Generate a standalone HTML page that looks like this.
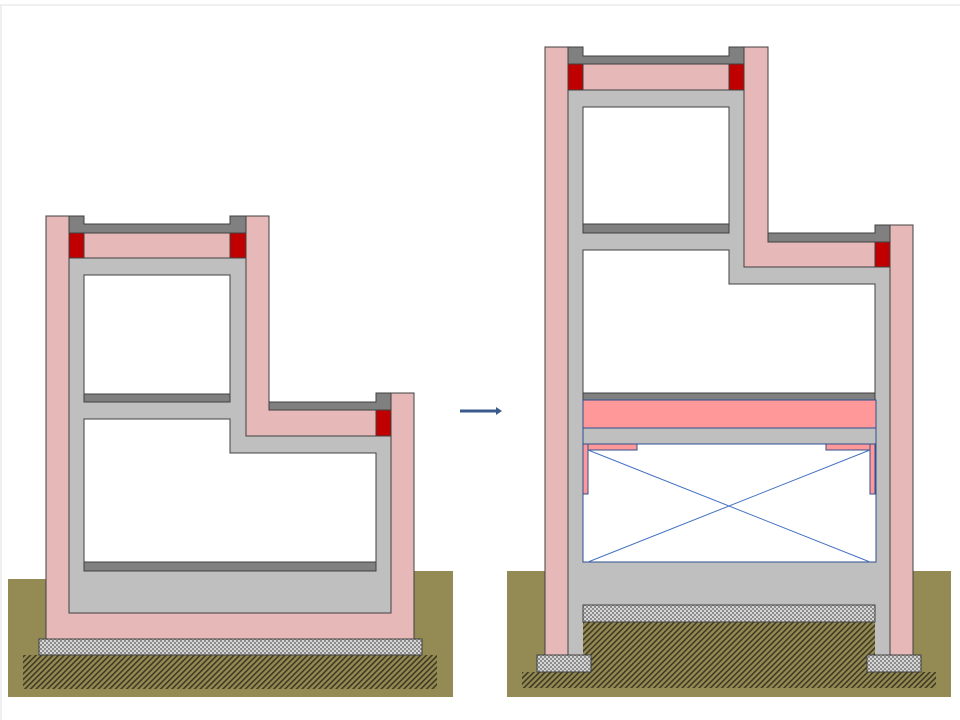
<!DOCTYPE html>
<html><head><meta charset="utf-8"><style>html,body{margin:0;padding:0;background:#fff}svg{display:block}</style></head>
<body>
<svg width="960" height="720" viewBox="0 0 960 720" xmlns="http://www.w3.org/2000/svg">
<defs>
<pattern id="hatch" width="4" height="4" patternUnits="userSpaceOnUse" patternTransform="rotate(45)">
<rect width="4" height="4" fill="#948A54"/><rect width="1.6" height="4" fill="#3f3a22"/>
</pattern>
<pattern id="grav" width="4" height="4" patternUnits="userSpaceOnUse">
<rect width="4" height="4" fill="#d6d6d6"/><rect width="2" height="2" fill="#8c8c8c"/><rect x="2" y="2" width="2" height="2" fill="#8c8c8c"/>
</pattern>
</defs>
<rect width="960" height="720" fill="#fff"/>
<line x1="0" y1="5" x2="960" y2="5" stroke="#e0e0e0"/>
<line x1="1" y1="5" x2="1" y2="720" stroke="#e0e0e0"/>

<g stroke="#404040" stroke-width="1">
<!-- LEFT BUILDING -->
<polygon points="8,579 46,579 46,571 453,571 453,697 8,697" fill="#948A54" stroke="none"/>
<rect x="23" y="655" width="414" height="34" fill="url(#hatch)" stroke="none"/>
<rect x="39" y="639" width="383" height="16" fill="url(#grav)"/>
<polygon points="46,216 84,216 84,224 230,224 230,216 269,216 269,410 391,410 391,393 414,393 414,639 46,639" fill="#E6B8B7"/>
<polygon points="69,216 84,216 84,224 230,224 230,216 246,216 246,233 69,233" fill="#808080"/>
<rect x="84" y="233" width="146" height="25" fill="#E6B8B7"/>
<rect x="69" y="233" width="15" height="25" fill="#C00000"/>
<rect x="230" y="233" width="16" height="25" fill="#C00000"/>
<polygon points="269,402 376,402 376,393 391,393 391,410 269,410" fill="#808080"/>
<rect x="376" y="410" width="15" height="26" fill="#C00000"/>
<polygon points="69,258 246,258 246,436 391,436 391,613 69,613" fill="#BFBFBF"/>
<rect x="84" y="275" width="146" height="119" fill="#fff"/>
<rect x="84" y="394" width="146" height="8" fill="#808080"/>
<polygon points="84,419 230,419 230,453 376,453 376,562 84,562" fill="#fff"/>
<rect x="84" y="562" width="292" height="9" fill="#808080"/>

<!-- RIGHT BUILDING -->
<rect x="507" y="571" width="444" height="126" fill="#948A54" stroke="none"/>
<rect x="522" y="672" width="414" height="16" fill="url(#hatch)" stroke="none"/>
<rect x="545" y="47" width="23" height="608" fill="#E6B8B7"/>
<rect x="890" y="225" width="23" height="430" fill="#E6B8B7"/>
<polygon points="744,47 768,47 768,242 875,242 875,267 744,267" fill="#E6B8B7"/>
<polygon points="568,47 583,47 583,56 729,56 729,47 744,47 744,64 568,64" fill="#808080"/>
<rect x="583" y="64" width="146" height="26" fill="#E6B8B7"/>
<rect x="568" y="64" width="15" height="26" fill="#C00000"/>
<rect x="729" y="64" width="15" height="26" fill="#C00000"/>
<polygon points="768,233 875,233 875,225 890,225 890,242 768,242" fill="#808080"/>
<rect x="875" y="242" width="15" height="25" fill="#C00000"/>
<polygon points="568,90 744,90 744,267 890,267 890,655 568,655" fill="#BFBFBF"/>
<polygon points="583,622 875,622 875,655 867,655 867,672 591,672 591,655 583,655" fill="url(#hatch)" stroke="none"/>
<rect x="583" y="605" width="292" height="17" fill="url(#grav)"/>
<rect x="537" y="655" width="54" height="17" fill="url(#grav)"/>
<rect x="867" y="655" width="54" height="17" fill="url(#grav)"/>
<rect x="583" y="107" width="146" height="117" fill="#fff"/>
<rect x="583" y="224" width="146" height="9" fill="#808080"/>
<polygon points="583,250 729,250 729,284 875,284 875,393 583,393" fill="#fff"/>
<rect x="583" y="393" width="292" height="7" fill="#808080"/>
</g>
<g stroke="#2F4F8F" stroke-width="1">
<rect x="583" y="400" width="293" height="28" fill="#FF9999"/>
<rect x="583" y="428" width="293" height="16" fill="#BFBFBF"/>
<rect x="583" y="444" width="293" height="118" fill="#fff"/>
<rect x="588" y="444" width="49" height="6" fill="#FF9999"/>
<rect x="583" y="444" width="5" height="50" fill="#FF9999"/>
<rect x="826" y="444" width="50" height="6" fill="#FF9999"/>
<rect x="870" y="444" width="5" height="50" fill="#FF9999"/>
</g>
<g stroke="#4472C4" stroke-width="1">
<line x1="588" y1="450" x2="870" y2="562"/>
<line x1="870" y1="450" x2="588" y2="562"/>
</g>
<line x1="460" y1="411" x2="497" y2="411" stroke="#3B5A8C" stroke-width="3"/>
<polygon points="496,407 502,411 496,415" fill="#3B5A8C"/>
</svg>
</body></html>
